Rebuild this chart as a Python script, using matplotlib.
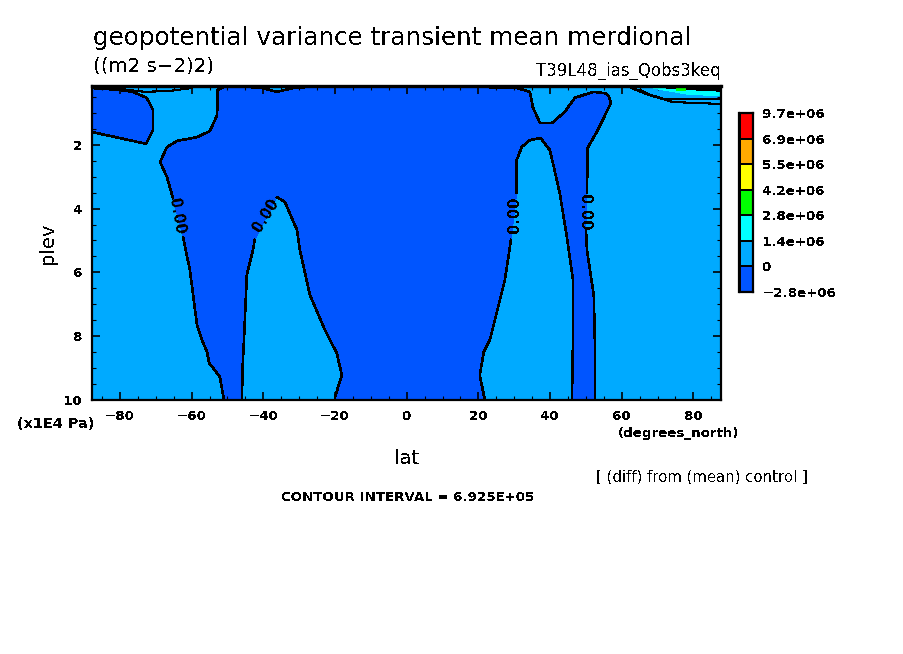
import numpy as np
import matplotlib
matplotlib.use("Agg")
import matplotlib.pyplot as plt

# pixel look of the original
plt.rcParams['font.family'] = 'DejaVu Sans'
plt.rcParams['text.antialiased'] = False

W, H = 904, 654

# zero contour around the big negative region, nan = gap left for a contour label
main_lat = [-50.7, -52.7, -52.9, -54.9, -58.5, -64.1, -66.9, -68.8, -66.9, -65.2, np.nan,
            -62.4, -60.5, -58.5, -57.1, -55.7, -55.1, -52.1, -51.0, -46.0, -45.7, -45.4,
            -44.6, -42.9, -42.4, np.nan, -36.2, -34.0, -30.6, -29.8, -27.0, -22.8, -21.4,
            -19.5, -18.1, -20.0, -20.0, 21.8, 20.4, 21.5, 23.2, 27.4, 29.1, np.nan, 30.7,
            30.7, 32.1, 34.4, 37.4, 39.9, 40.8, 42.7, 44.7, 46.4, 46.4, 46.1, 52.5, 52.5,
            52.2, 50.3, 50.0, np.nan, 50.3, 50.5, 53.3, 57.0, 56.4, 55.3, 52.0, 46.9, 44.1,
            40.5, 37.2, 35.2, 34.4, 30.7, 25.2, 20.4, -24.2, -31.7, -36.2, -40.4, -43.7, -50.7]
main_plev = [0.16, 0.28, 1.07, 1.57, 1.76, 1.88, 2.07, 2.54, 3.01, 3.67, np.nan,
             4.89, 5.92, 7.65, 8.12, 8.50, 8.84, 9.28, 10.0, 10.0, 8.75, 8.12,
             6.08, 5.30, 4.98, np.nan, 3.64, 3.79, 4.67, 5.30, 6.71, 7.81, 8.12,
             8.53, 9.22, 9.91, 10.0, 10.0, 9.22, 8.50, 8.12, 6.24, 4.98, np.nan, 3.51,
             2.48, 2.07, 1.85, 1.79, 2.16, 2.57, 3.51, 4.89, 6.24, 8.12, 10.0, 10.0, 8.12,
             6.71, 5.30, 4.61, np.nan, 3.51, 2.10, 1.54, 0.69, 0.47, 0.38, 0.34, 0.53, 0.97,
             1.32, 1.32, 0.82, 0.34, 0.22, 0.22, 0.16, 0.16, 0.22, 0.34, 0.22, 0.19, 0.16]

# negative patch in the top left corner
corner_lat = [-87.8, -80.0, -76.4, -72.5, -70.8, -70.8, -72.7, -80.0, -87.8]
corner_plev = [0.22, 0.28, 0.34, 0.53, 0.91, 1.54, 1.97, 1.79, 1.60]

# thin contours near the top
thin_left_lat = [-80.0, -73.0, -66.0, -60.0]
thin_left_plev = [0.25, 0.34, 0.31, 0.22]
thin_r1_lat = [65.1, 68.7, 74.3, 87.7]
thin_r1_plev = [0.28, 0.47, 0.66, 0.72]
thin_r2_lat = [62.3, 67.0, 71.5, 87.7]
thin_r2_plev = [0.19, 0.41, 0.56, 0.56]

# crowded high values at the top right
cyan_lat = [67.3, 71.5, 78.2, 87.7, 87.7, 80.4, 71.5]
cyan_plev = [0.19, 0.28, 0.41, 0.47, 0.30, 0.30, 0.22]
black_lat = [67.0, 87.7, 87.7, 80.4, 76.0, 70.0]
black_plev = [0.16, 0.16, 0.32, 0.28, 0.25, 0.20]
green_lat = [75.5, 77.3]
green_plev = [0.25, 0.25]

# contour labels
label_lat = [-64.0, -39.2, 30.2, 49.6]
label_plev = [4.25, 4.2, 4.2, 4.1]
label_rot = [-80, 58, 90, -90]
label_text = '0.00'

# shade key
key_colors = ['#0055ff', '#00aaff', '#00ffff', '#00ff00', '#ffff00', '#ffaa00', '#ff0000']
key_labels = ['\u22122.8e+06', '0', '1.4e+06', '2.8e+06', '4.2e+06', '5.5e+06', '6.9e+06', '9.7e+06']

xticks = [-80, -60, -40, -20, 0, 20, 40, 60, 80]
yticks = [2, 4, 6, 8, 10]


def figtext(x, y, s, **kw):
    kw.setdefault('va', 'center')
    fig.text(x / W, 1 - y / H, s, **kw)


fig = plt.figure(figsize=(W / 100, H / 100), dpi=100)
ax = fig.add_axes([92 / W, 1 - 400 / H, 629 / W, 314 / H])
ax.set_xlim(-87.8, 87.7)
ax.set_ylim(10, 0.157)
ax.set_facecolor('#00aaff')

lat = np.array(main_lat)
plev = np.array(main_plev)
ok = ~np.isnan(lat)
ax.fill(lat[ok], plev[ok], color='#0055ff', lw=0, antialiased=False, zorder=1)
ax.plot(lat, plev, color='k', lw=1.15, antialiased=False, zorder=3)

ax.fill(corner_lat + [-87.8], corner_plev + [0.16], color='#0055ff', lw=0, antialiased=False, zorder=1)
ax.plot(corner_lat, corner_plev, color='k', lw=1.15, antialiased=False, zorder=3)

ax.fill(cyan_lat, cyan_plev, color='#00ffff', lw=0, antialiased=False, zorder=2)
ax.fill(black_lat, black_plev, color='k', lw=0, antialiased=False, zorder=2)
ax.plot(green_lat, green_plev, color='#00ff00', lw=1, antialiased=False, zorder=3)
ax.plot(thin_left_lat, thin_left_plev, color='k', lw=0.8, antialiased=False, zorder=3)
ax.plot(thin_r1_lat, thin_r1_plev, color='k', lw=0.8, antialiased=False, zorder=3)
ax.plot(thin_r2_lat, thin_r2_plev, color='k', lw=1.2, antialiased=False, zorder=3)

for x, y, r in zip(label_lat, label_plev, label_rot):
    ax.text(x, y, label_text, rotation=r, ha='center', va='center', fontsize=10.5, fontweight='bold',
            zorder=4, rotation_mode='anchor')

ax.set_xticks(xticks)
ax.set_yticks(yticks)
ax.set_xticks(np.arange(-85, 86, 5), minor=True)
ax.set_yticks(np.arange(0.5, 10, 0.5), minor=True)
ax.tick_params(which='major', direction='in', top=True, right=True, length=6, width=1.2, labelsize=9.6, pad=7)
ax.tick_params(which='minor', direction='in', top=True, right=True, length=3, width=0.8)
for t in ax.get_xticklabels() + ax.get_yticklabels():
    t.set_fontweight('bold')
for s in ax.spines.values():
    s.set_linewidth(1.6)
    s.set_zorder(6)
ax.spines['top'].set_linewidth(2.4)

# shade key
cax = fig.add_axes([739.5 / W, 1 - 292 / H, 13 / W, 179 / H])
cax.bar(np.zeros(len(key_colors)), np.ones(len(key_colors)), bottom=np.arange(len(key_colors)),
        width=1, color=key_colors, edgecolor='k', linewidth=1.4, antialiased=False)
cax.set_xlim(-0.5, 0.5)
cax.set_ylim(0, len(key_colors))
cax.set_xticks([])
cax.set_yticks(np.arange(len(key_labels)))
cax.set_yticklabels(key_labels, fontweight='bold')
cax.yaxis.tick_right()
cax.tick_params(length=0, labelsize=9.6, pad=7)
for s in cax.spines.values():
    s.set_linewidth(1.6)

figtext(93, 38.5, 'geopotential variance transient mean merdional', fontsize=17.7, ha='left')
figtext(93, 66, '((m2 s\u22122)2)', fontsize=14.2, ha='left')
figtext(721, 71, 'T39L48_ias_Qobs3keq', fontsize=12, ha='right')
figtext(17, 424, '(x1E4 Pa)', fontsize=10.4, ha='left', fontweight='bold')
figtext(618, 433, '(degrees_north)', fontsize=9.6, ha='left', fontweight='bold')
figtext(407, 458, 'lat', fontsize=14, ha='center')
figtext(48, 243, 'plev', fontsize=14, ha='center', rotation=90)
figtext(596, 477, '[ (diff) from (mean) control ]', fontsize=10.7, ha='left')
figtext(281, 497.5, 'CONTOUR INTERVAL = 6.925E+05', fontsize=9.6, ha='left', fontweight='bold')

fig.savefig('out.png', dpi=100)
